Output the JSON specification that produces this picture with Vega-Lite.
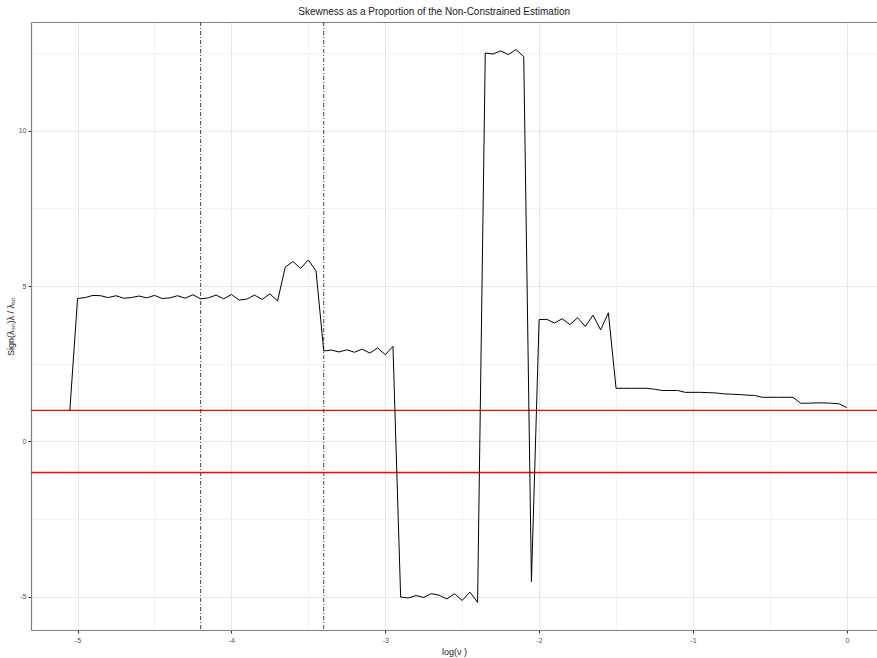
{
  "$schema": "https://vega.github.io/schema/vega-lite/v6.json",
  "autosize": "none",
  "width": 846,
  "height": 608,
  "padding": {"left": 31, "top": 22, "right": 0, "bottom": 28},
  "background": "white",
  "title": {"text": "Skewness as a Proportion of the Non-Constrained Estimation", "font": "Liberation Sans", "fontSize": 10, "fontWeight": "normal", "color": "#1a1a1a", "anchor": "start", "dx": 292, "offset": 5},
  "config": {
    "view": {"stroke": null},
    "axis": {"labelFont": "Liberation Sans", "titleFont": "Liberation Sans", "labelFontSize": 7, "labelColor": "#4d4d4d", "titleFontSize": 9, "titleFontWeight": "normal", "titleColor": "#1a1a1a", "tickColor": "#333333", "tickSize": 3, "domainColor": "#7f7f7f", "domainWidth": 1.2, "gridColor": "#e6e6e6", "gridWidth": 1}
  },
  "datasets": {
    "series": [
      {"v": -5.05, "s": 1.0}, {"v": -5.0, "s": 4.6}, {"v": -4.95, "s": 4.63}, {"v": -4.9, "s": 4.7}, {"v": -4.85, "s": 4.69},
      {"v": -4.8, "s": 4.63}, {"v": -4.75, "s": 4.69}, {"v": -4.7, "s": 4.61}, {"v": -4.65, "s": 4.63}, {"v": -4.6, "s": 4.68},
      {"v": -4.55, "s": 4.62}, {"v": -4.5, "s": 4.7}, {"v": -4.45, "s": 4.6}, {"v": -4.4, "s": 4.62}, {"v": -4.35, "s": 4.69},
      {"v": -4.3, "s": 4.61}, {"v": -4.25, "s": 4.72}, {"v": -4.2, "s": 4.59}, {"v": -4.15, "s": 4.62}, {"v": -4.1, "s": 4.71},
      {"v": -4.05, "s": 4.59}, {"v": -4.0, "s": 4.73}, {"v": -3.95, "s": 4.55}, {"v": -3.9, "s": 4.58}, {"v": -3.85, "s": 4.71},
      {"v": -3.8, "s": 4.57}, {"v": -3.75, "s": 4.75}, {"v": -3.7, "s": 4.52}, {"v": -3.65, "s": 5.61}, {"v": -3.6, "s": 5.79},
      {"v": -3.55, "s": 5.57}, {"v": -3.5, "s": 5.84}, {"v": -3.45, "s": 5.49}, {"v": -3.4, "s": 2.91}, {"v": -3.35, "s": 2.94},
      {"v": -3.3, "s": 2.88}, {"v": -3.25, "s": 2.95}, {"v": -3.2, "s": 2.87}, {"v": -3.15, "s": 2.97}, {"v": -3.1, "s": 2.84},
      {"v": -3.05, "s": 3.01}, {"v": -3.0, "s": 2.79}, {"v": -2.95, "s": 3.06}, {"v": -2.9, "s": -5.01}, {"v": -2.85, "s": -5.04},
      {"v": -2.8, "s": -4.96}, {"v": -2.75, "s": -5.02}, {"v": -2.7, "s": -4.9}, {"v": -2.65, "s": -4.95}, {"v": -2.6, "s": -5.07},
      {"v": -2.55, "s": -4.9}, {"v": -2.5, "s": -5.12}, {"v": -2.45, "s": -4.85}, {"v": -2.4, "s": -5.18}, {"v": -2.35, "s": 12.5},
      {"v": -2.3, "s": 12.47}, {"v": -2.25, "s": 12.57}, {"v": -2.2, "s": 12.45}, {"v": -2.15, "s": 12.61}, {"v": -2.1, "s": 12.39},
      {"v": -2.05, "s": -4.51}, {"v": -2.0, "s": 3.92}, {"v": -1.95, "s": 3.93}, {"v": -1.9, "s": 3.81}, {"v": -1.85, "s": 3.95},
      {"v": -1.8, "s": 3.76}, {"v": -1.75, "s": 3.98}, {"v": -1.7, "s": 3.7}, {"v": -1.65, "s": 4.06}, {"v": -1.6, "s": 3.59},
      {"v": -1.55, "s": 4.14}, {"v": -1.5, "s": 1.71}, {"v": -1.45, "s": 1.71}, {"v": -1.4, "s": 1.71}, {"v": -1.35, "s": 1.71},
      {"v": -1.3, "s": 1.71}, {"v": -1.25, "s": 1.68}, {"v": -1.2, "s": 1.64}, {"v": -1.15, "s": 1.64}, {"v": -1.1, "s": 1.64},
      {"v": -1.05, "s": 1.58}, {"v": -1.0, "s": 1.58}, {"v": -0.95, "s": 1.58}, {"v": -0.9, "s": 1.57}, {"v": -0.85, "s": 1.56},
      {"v": -0.8, "s": 1.53}, {"v": -0.75, "s": 1.52}, {"v": -0.7, "s": 1.51}, {"v": -0.65, "s": 1.49}, {"v": -0.6, "s": 1.48},
      {"v": -0.55, "s": 1.42}, {"v": -0.5, "s": 1.42}, {"v": -0.45, "s": 1.42}, {"v": -0.4, "s": 1.42}, {"v": -0.35, "s": 1.42},
      {"v": -0.3, "s": 1.23}, {"v": -0.25, "s": 1.23}, {"v": -0.2, "s": 1.24}, {"v": -0.15, "s": 1.24}, {"v": -0.1, "s": 1.23},
      {"v": -0.05, "s": 1.21}, {"v": 0.0, "s": 1.09}
    ],
    "hlines": [{"h": 1}, {"h": -1}],
    "vlines": [{"x": -4.2}, {"x": -3.4}]
  },
  "layer": [
    {
      "data": {"name": "vlines"},
      "mark": {"type": "rule", "color": "#444444", "strokeWidth": 1, "strokeDash": [4, 2, 1, 2]},
      "encoding": {
        "x": {"field": "x", "type": "quantitative", "scale": {"domain": [-5.3025, 0.196], "nice": false, "zero": false},
          "axis": {"orient": "top", "values": [-4.5, -3.5, -2.5, -1.5, -0.5], "labels": false, "ticks": false, "title": null, "domain": true, "grid": true, "gridColor": "#f3f3f3"}}
      }
    },
    {
      "data": {"name": "hlines"},
      "mark": {"type": "rule", "color": "#ff0000", "strokeWidth": 1.3},
      "encoding": {
        "y": {"field": "h", "type": "quantitative", "scale": {"domain": [-6.0695, 13.4995], "nice": false, "zero": false},
          "axis": {"orient": "right", "values": [-2.5, 2.5, 7.5, 12.5], "labels": false, "ticks": false, "title": null, "domain": false, "grid": true, "gridColor": "#f3f3f3"}}
      }
    },
    {
      "data": {"name": "series"},
      "mark": {"type": "line", "color": "#000000", "strokeWidth": 1},
      "encoding": {
        "x": {"field": "v", "type": "quantitative", "scale": {"domain": [-5.3025, 0.196], "nice": false, "zero": false},
          "axis": {"orient": "bottom", "values": [-5, -4, -3, -2, -1, 0], "labelExpr": "'' + datum.value", "title": "log(ν )", "titlePadding": 4, "labelPadding": 3, "grid": true}},
        "y": {"field": "s", "type": "quantitative", "scale": {"domain": [-6.0695, 13.4995], "nice": false, "zero": false},
          "axis": {"orient": "left", "values": [-5, 0, 5, 10], "labelExpr": "'' + datum.value", "title": "Sign(λₛₙ)λ / λₛₙ", "titlePadding": 3, "labelPadding": 2, "grid": true}}
      }
    }
  ],
  "resolve": {"axis": {"x": "independent", "y": "independent"}}
}
